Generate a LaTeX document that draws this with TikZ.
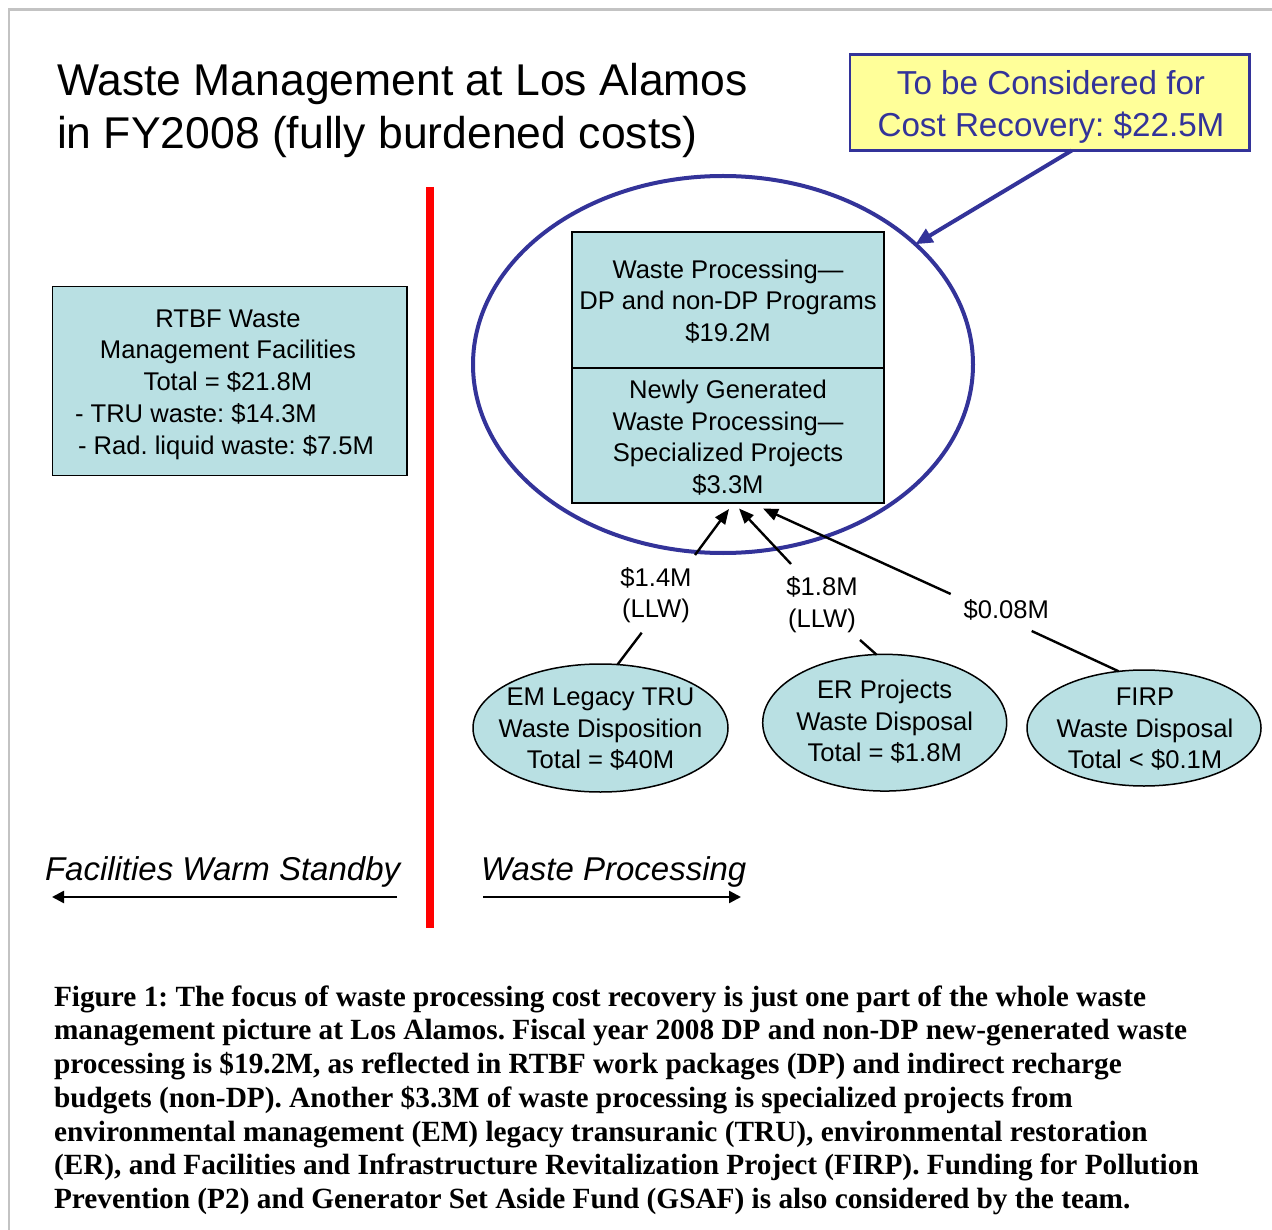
\documentclass[tikz,border=0pt]{standalone}
\usepackage{fontspec}
\setmainfont{Liberation Sans}
\newfontfamily\capfont{Liberation Serif}
\usetikzlibrary{arrows.meta,shapes.geometric}
\definecolor{navy}{RGB}{51,51,153}
\definecolor{boxfill}{RGB}{185,224,227}
\definecolor{yel}{RGB}{255,255,153}
\definecolor{framegray}{RGB}{195,195,195}
\frenchspacing
\tikzset{
  txt/.style={font=\fontsize{25.6}{31.5}\selectfont, align=center},
  bluebox/.style={draw=black, line width=1.5pt, fill=boxfill},
  conn/.style={draw=black, line width=2.4pt},
  connarr/.style={conn, -{Triangle[length=15pt,width=12pt]}},
  sidearr/.style={draw=black, line width=2.5pt, -{Triangle[length=12pt,width=12pt]}},
  sidetxt/.style={font=\fontsize{33}{40}\selectfont\itshape, anchor=base west},
}
\begin{document}
\begin{tikzpicture}[x=1pt,y=-1pt, every node/.style={inner sep=0pt,outer sep=0pt}]
\useasboundingbox (0,0) rectangle (1272,1230);
\fill[white] (0,0) rectangle (1272,1230);
% frame
\draw[framegray, line width=2.5pt] (1272,9.5) -- (9,9.5) -- (9,1230);

% title
\node[anchor=west, align=left, font=\fontsize{44.5}{53}\selectfont] (title) at (57,110.4)
  {Waste Management at Los Alamos\\in FY2008 (fully burdened costs)};

% yellow box
\node[draw=navy, line width=2.5pt, fill=yel, minimum width=399.5, minimum height=96] (yellow) at (1049.75,102.5) {};
\node[align=center, text=navy, font=\fontsize{33.2}{42}\selectfont] (yellowtxt) at (1051,107)
  {To be Considered for\\Cost Recovery: \$22.5M};

% RTBF box
\node[bluebox, rectangle, minimum width=354.3, minimum height=189] (rtbf) at (229.85,381.2) {};
\node[txt] (rtbftxt) at (228,350.9) {RTBF Waste\\Management Facilities\\Total = \$21.8M};
\node[txt, align=left, anchor=west] (rtbflist) at (75,431.5) {- TRU waste: \$14.3M\\\hspace*{3pt}- Rad. liquid waste: \$7.5M};

% red divider
\draw[red, line width=8pt] (430,187) -- (430,928);

% focus ellipse
\node[draw=navy, line width=4pt, ellipse, minimum width=500, minimum height=377] (focus) at (723,364.5) {};

% central boxes
\node[bluebox, rectangle, minimum width=312, minimum height=136] (wpa) at (728,300) {};
\node[bluebox, rectangle, minimum width=312, minimum height=135] (wpb) at (728,435.5) {};
\node[txt] (wpatxt) at (728,301.25) {Waste Processing\textemdash\\DP and non-DP Programs\\\$19.2M};
\node[txt] (wpbtxt) at (728,437.5) {Newly Generated\\Waste Processing\textemdash\\Specialized Projects\\\$3.3M};

% navy arrow
\draw[navy, line width=4pt, -{Triangle[length=17pt,width=15pt]}] ([xshift=22pt]yellow.south) -- (focus.32);

% bottom ellipses
\node[bluebox, ellipse, minimum width=255, minimum height=128] (em) at (600.5,728) {};
\node[txt] (emtxt) at (600.5,729.3) {EM Legacy TRU\\Waste Disposition\\Total = \$40M};
\node[bluebox, ellipse, minimum width=244, minimum height=136.7] (er) at (884.7,722.7) {};
\node[txt] (ertxt) at (884.7,722) {ER Projects\\Waste Disposal\\Total = \$1.8M};
\node[bluebox, ellipse, minimum width=234, minimum height=116] (firp) at (1144,728) {};
\node[txt] (firptxt) at (1145,729.3) {FIRP\\Waste Disposal\\Total < \$0.1M};

% labels
\node[txt] (l14) at (656,595.3) {\$1.4M\\(LLW)};
\node[txt] (l18) at (822,604.5) {\$1.8M\\(LLW)};
\node[txt] (l008) at (1006.3,610.3) {\$0.08M};

% connector coordinates
\coordinate (t1) at (729,509);
\coordinate (t2) at (739,508.5);
\coordinate (t3) at (763,508.5);
\coordinate (c1a) at (695,555);
\coordinate (c1b) at (641.7,632.7);
\coordinate (c2a) at (791,564);
\coordinate (c2b) at (860,640);
\coordinate (c3a) at (950.7,594);
\coordinate (c3b) at (1031.7,631);

\draw[conn] (em.75) -- (c1b);
\draw[connarr] (c1a) -- (t1);
\draw[conn] (er.97) -- (c2b);
\draw[connarr] (c2a) -- (t2);
\draw[conn] (firp.114) -- (c3b);
\draw[connarr] (c3a) -- (t3);

% side labels and arrows
\node[sidetxt] (fws) at (45,880.7) {Facilities Warm Standby};
\node[sidetxt] (wp) at (481,880.7) {Waste Processing};
\coordinate (fwsA) at (397,897);
\coordinate (fwsB) at (52,897);
\coordinate (wpA) at (483,897);
\coordinate (wpB) at (741,897);
\draw[sidearr] (fwsA) -- (fwsB);
\draw[sidearr] (wpA) -- (wpB);

% caption
\node[anchor=west, align=left, font=\capfont\bfseries\fontsize{29.3}{33.7}\selectfont] (caption) at (54,1100.2)
{Figure 1: The focus of waste processing cost recovery is just one part of the whole waste\\
management picture at Los Alamos. Fiscal year 2008 DP and non-DP new-generated waste\\
processing is \$19.2M, as reflected in RTBF work packages (DP) and indirect recharge\\
budgets (non-DP). Another \$3.3M of waste processing is specialized projects from\\
environmental management (EM) legacy transuranic (TRU), environmental restoration\\
(ER), and Facilities and Infrastructure Revitalization Project (FIRP). Funding for Pollution\\
Prevention (P2) and Generator Set Aside Fund (GSAF) is also considered by the team.};
\end{tikzpicture}
\end{document}
